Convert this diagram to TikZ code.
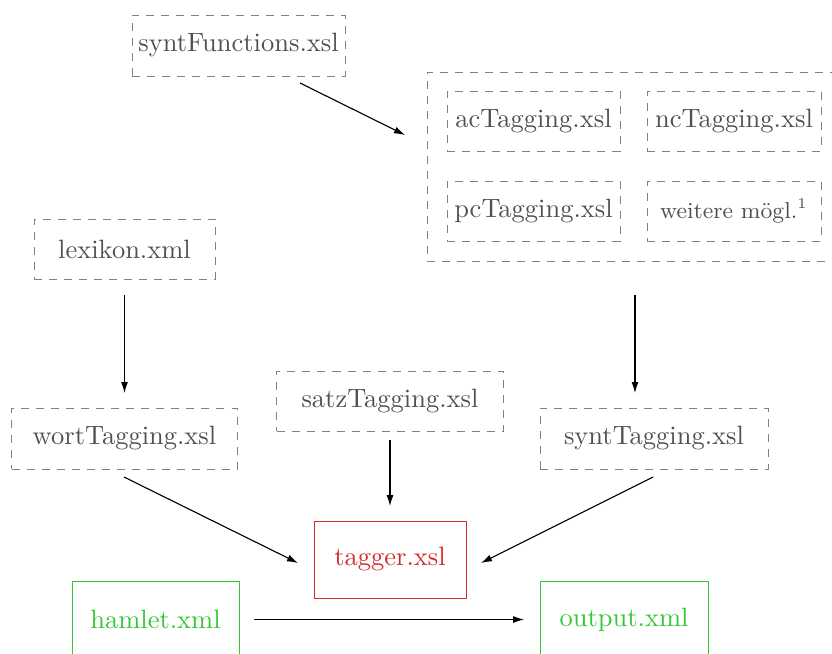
\documentclass[tikz,border=0pt]{standalone}
\usetikzlibrary{arrows.meta}
\definecolor{txtgray}{HTML}{505050}
\definecolor{linegray}{HTML}{808080}
\definecolor{tagred}{HTML}{D42C2C}
\definecolor{filegreen}{HTML}{33C833}
\newcommand\pxu{0.4pt}
\begin{document}
\begin{tikzpicture}[x=0.4pt,y=-0.4pt,
  every node/.style={font=\fontsize{10.6}{13}\selectfont, inner sep=0pt, outer sep=0pt},
  xslbox/.style={draw=linegray, dash pattern=on 3.2pt off 2.8pt, text=txtgray,
    minimum height=60*\pxu},
  redbox/.style={draw=tagred, text=tagred, minimum height=77*\pxu},
  greenbox/.style={draw=filegreen, text=filegreen, minimum height=77*\pxu},
  arr/.style={-{Latex[length=4.4pt,width=2.8pt]}, line width=0.45pt, black}]
\useasboundingbox (0,0) rectangle (832,653);
\clip (0,0) rectangle (832,653);

% stylesheets
\node[xslbox, minimum width=213*\pxu, minimum height=61*\pxu] (synF) at (238.5,45.5) {syntFunctions.xsl};
\node[xslbox, minimum width=411*\pxu, minimum height=189*\pxu] (grp) at (632.5,166.5) {};
\node[xslbox, minimum width=173*\pxu] (ac) at (533.5,121) {acTagging.xsl};
\node[xslbox, minimum width=174*\pxu] (nc) at (734,121) {ncTagging.xsl};
\node[xslbox, minimum width=173*\pxu] (pc) at (533.5,211) {pcTagging.xsl};
\node[xslbox, minimum width=174*\pxu, font=\fontsize{9.2}{11}\selectfont] (we) at (734,211) {weitere mögl.$^1$};
\node[xslbox, minimum width=181*\pxu] (lex) at (124.5,249) {lexikon.xml};
\node[xslbox, minimum width=226*\pxu, minimum height=61*\pxu] (wort) at (124.5,438.5) {wortTagging.xsl};
\node[xslbox, minimum width=227*\pxu] (satz) at (390,401) {satzTagging.xsl};
\node[xslbox, minimum width=228*\pxu, minimum height=61*\pxu] (synt) at (654,438.5) {syntTagging.xsl};

% main stylesheet and files
\node[redbox, minimum width=152*\pxu] (tagger) at (390,559.5) {tagger.xsl};
\node[greenbox, minimum width=167*\pxu] (hamlet) at (155.5,619.5) {hamlet.xml};
\node[greenbox, minimum width=168*\pxu] (output) at (624,619.5) {output.xml};

% connectors
\draw[arr] ([shift={(61.5,7)}]synF.south) -- ([shift={(-22,-31.5)}]grp.west);
\draw[arr] ([yshift=-16*\pxu]lex.south) -- ([yshift=15*\pxu]wort.north);
\draw[arr] ([shift={(2.5,34)}]grp.south) -- ([shift={(-19,-15)}]synt.north);
\draw[arr] ([yshift=-9*\pxu]satz.south) -- ([yshift=15*\pxu]tagger.north);
\draw[arr] ([shift={(-0.5,8)}]wort.south) -- ([shift={(-16,3.5)}]tagger.west);
\draw[arr] ([shift={(-1,8)}]synt.south) -- ([shift={(15,3.5)}]tagger.east);
\draw[arr] ([xshift=15*\pxu]hamlet.east) -- ([xshift=-16*\pxu]output.west);
\end{tikzpicture}
\end{document}
